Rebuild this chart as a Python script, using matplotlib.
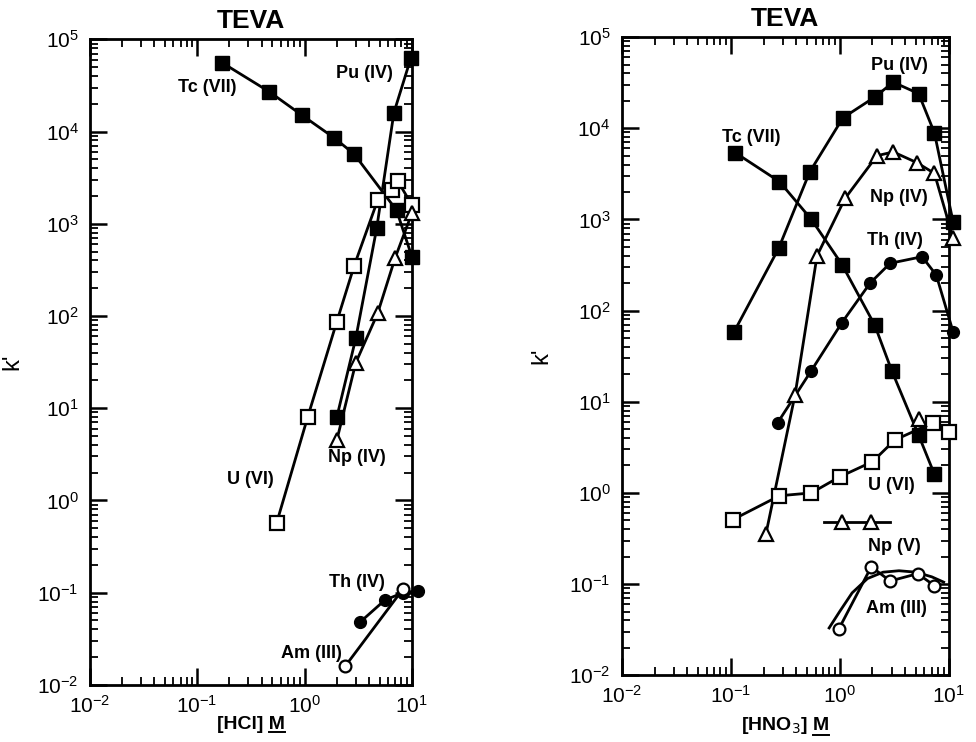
import matplotlib
matplotlib.use("Agg")
import matplotlib.pyplot as plt
from matplotlib.ticker import FixedLocator, LogLocator, NullFormatter, LogFormatterSciNotation
from matplotlib.lines import Line2D

plt.rcParams['font.family'] = ['Liberation Sans', 'DejaVu Sans']

# ---------------- tick values ----------------
x_major_ticks = [1e-2, 1e-1, 1e0, 1e1]
y_major_ticks = [1e-2, 1e-1, 1e0, 1e1, 1e2, 1e3, 1e4, 1e5]

# ---------------- Left panel: HCl ----------------
hcl_tc_x = [0.17, 0.47, 0.95, 1.9, 2.9, 7.2, 10]
hcl_tc_y = [56000, 27000, 15000, 8500, 5700, 1400, 440]
hcl_pu_x = [2.0, 3.0, 4.7, 6.8, 9.8]
hcl_pu_y = [8, 57, 890, 16000, 63000]
hcl_u_x = [0.55, 1.07, 2.0, 2.9, 4.8, 6.6, 7.4, 10]
hcl_u_y = [0.57, 8, 87, 350, 1800, 2300, 2900, 1600]
hcl_np_x = [2.0, 3.0, 4.8, 7.0, 10]
hcl_np_y = [4.5, 31, 107, 430, 1300]
hcl_th_x = [3.3, 5.6, 8.3, 11.5]
hcl_th_y = [0.048, 0.083, 0.10, 0.105]
hcl_am_x = [2.4, 8.3]
hcl_am_y = [0.016, 0.11]

# ---------------- Right panel: HNO3 ----------------
hno3_pu_x = [0.107, 0.275, 0.53, 1.07, 2.1, 3.1, 5.3, 7.4, 11]
hno3_pu_y = [58, 480, 3300, 13000, 22000, 32000, 24000, 8900, 930]
hno3_tc_x = [0.11, 0.28, 0.55, 1.05, 2.1, 3.0, 5.3, 7.4]
hno3_tc_y = [5400, 2600, 1000, 320, 69, 22, 4.3, 1.6]
hno3_np4_x = [0.21, 0.39, 0.62, 1.12, 2.2, 3.1, 5.1, 7.4, 11]
hno3_np4_y = [0.35, 12, 400, 1700, 5000, 5500, 4200, 3200, 620]
hno3_th_x = [0.27, 0.55, 1.05, 1.9, 2.9, 5.7, 7.7, 11]
hno3_th_y = [5.9, 22, 74, 200, 330, 390, 245, 58]
hno3_u_x = [0.105, 0.28, 0.55, 1.0, 2.0, 3.2, 7.2, 10]
hno3_u_y = [0.51, 0.93, 1.0, 1.5, 2.2, 3.8, 5.9, 4.6]
hno3_extra_tri_x = [5.3]
hno3_extra_tri_y = [6.5]
hno3_np5_x = [0.72, 1.05, 1.95, 2.9]
hno3_np5_y = [0.48, 0.48, 0.48, 0.48]
hno3_am_x = [0.98, 1.95, 2.9, 5.2, 7.4]
hno3_am_y = [0.032, 0.155, 0.108, 0.13, 0.096]
hno3_am_fit_x = [0.8, 1.0, 1.3, 1.8, 2.5, 3.5, 5.0, 7.0, 9.0]
hno3_am_fit_y = [0.033, 0.05, 0.08, 0.115, 0.135, 0.14, 0.135, 0.12, 0.105]

LW = 2.0
MS_SQ = 9.5
MS_TRI = 10
MS_CI = 8.5
MEW = 1.6


def filled_sq(ax, x, y):
    ax.plot(x, y, '-', color='black', lw=LW, marker='s', ms=MS_SQ,
            mfc='black', mec='black', clip_on=False, zorder=3)


def open_sq(ax, x, y):
    ax.plot(x, y, '-', color='black', lw=LW, marker='s', ms=MS_SQ,
            mfc='white', mec='black', mew=MEW, clip_on=False, zorder=4)


def open_tri(ax, x, y, line=True, markevery=None):
    ax.plot(x, y, '-' if line else 'none', color='black', lw=LW, marker='^',
            ms=MS_TRI, mfc='white', mec='black', mew=MEW, clip_on=False,
            zorder=4, markevery=markevery)


def filled_ci(ax, x, y):
    ax.plot(x, y, '-', color='black', lw=LW, marker='o', ms=MS_CI,
            mfc='black', mec='black', clip_on=False, zorder=3)


def open_ci(ax, x, y, line=True):
    ax.plot(x, y, '-' if line else 'none', color='black', lw=LW, marker='o',
            ms=MS_CI, mfc='white', mec='black', mew=MEW, clip_on=False, zorder=4)


def style_axes(ax):
    ax.set_xscale('log')
    ax.set_yscale('log')
    ax.set_xlim(1e-2, 1e1)
    ax.set_ylim(1e-2, 1e5)
    ax.xaxis.set_major_locator(FixedLocator(x_major_ticks))
    ax.yaxis.set_major_locator(FixedLocator(y_major_ticks))
    ax.xaxis.set_major_formatter(LogFormatterSciNotation())
    ax.yaxis.set_major_formatter(LogFormatterSciNotation())
    ax.xaxis.set_minor_locator(LogLocator(base=10, subs=range(2, 10), numticks=20))
    ax.yaxis.set_minor_locator(LogLocator(base=10, subs=range(2, 10), numticks=20))
    ax.xaxis.set_minor_formatter(NullFormatter())
    ax.yaxis.set_minor_formatter(NullFormatter())
    ax.tick_params(which='major', direction='in', length=12, width=1.8,
                   top=True, right=True, labelsize=15)
    ax.tick_params(axis='y', which='major', pad=8)
    ax.tick_params(axis='x', which='major', pad=7)
    ax.tick_params(which='minor', direction='in', length=6, width=1.3,
                   top=True, right=True)
    for s in ax.spines.values():
        s.set_linewidth(2.0)
    ax.set_title('TEVA', fontsize=19, fontweight='bold', pad=8)


fig = plt.figure(figsize=(9.76, 7.42), dpi=100)
axL = fig.add_axes([0.092, 0.077, 0.330, 0.870])
axR = fig.add_axes([0.637, 0.090, 0.335, 0.860])

# Left panel
filled_sq(axL, hcl_tc_x, hcl_tc_y)
filled_sq(axL, hcl_pu_x, hcl_pu_y)
open_sq(axL, hcl_u_x, hcl_u_y)
open_tri(axL, hcl_np_x, hcl_np_y)
filled_ci(axL, hcl_th_x, hcl_th_y)
open_ci(axL, hcl_am_x, hcl_am_y)
style_axes(axL)

lab = dict(fontsize=13, fontweight='bold', ha='center', va='center')
axL.text(0.123, 30000, 'Tc (VII)', **lab)
axL.text(3.6, 43000, 'Pu (IV)', **lab)
axL.text(3.1, 2.9, 'Np (IV)', **lab)
axL.text(0.31, 1.7, 'U (VI)', **lab)
axL.text(3.1, 0.13, 'Th (IV)', **lab)
axL.text(1.17, 0.022, 'Am (III)', **lab)
xlabL = axL.set_xlabel('[HCl] M', fontsize=14, fontweight='bold', labelpad=0)
axL.set_ylabel("k'", fontsize=17, labelpad=10)

# Right panel
filled_sq(axR, hno3_pu_x, hno3_pu_y)
filled_sq(axR, hno3_tc_x, hno3_tc_y)
open_tri(axR, hno3_np4_x, hno3_np4_y)
filled_ci(axR, hno3_th_x, hno3_th_y)
open_sq(axR, hno3_u_x, hno3_u_y)
open_tri(axR, hno3_extra_tri_x, hno3_extra_tri_y, line=False)
open_tri(axR, hno3_np5_x, hno3_np5_y, markevery=[1, 2])
axR.plot(hno3_am_fit_x, hno3_am_fit_y, '-', color='black', lw=LW, zorder=3)
open_ci(axR, hno3_am_x, hno3_am_y, line=False)
style_axes(axR)

axR.text(3.5, 49000, 'Pu (IV)', **lab)
axR.text(0.155, 7900, 'Tc (VII)', **lab)
axR.text(3.5, 1740, 'Np (IV)', **lab)
axR.text(3.2, 590, 'Th (IV)', **lab)
axR.text(3.0, 1.2, 'U (VI)', **lab)
axR.text(3.2, 0.26, 'Np (V)', **lab)
axR.text(3.3, 0.054, 'Am (III)', **lab)
xlabR = axR.set_xlabel('[HNO$_3$] M', fontsize=14, fontweight='bold', labelpad=6)
axR.set_ylabel("k'", fontsize=17, labelpad=12)

# underline the "M" of each x label
fig.canvas.draw()
renderer = fig.canvas.get_renderer()
probe = fig.text(0, 0, 'M', fontsize=14, fontweight='bold')
mw = probe.get_window_extent(renderer).width
probe.remove()
for lbl in (xlabL, xlabR):
    bb = lbl.get_window_extent(renderer)
    W, H = fig.bbox.width, fig.bbox.height
    y = bb.y0 + 1
    fig.add_artist(Line2D([(bb.x1 - mw) / W, bb.x1 / W], [y / H, y / H],
                          color='black', lw=1.4, transform=fig.transFigure))

fig.savefig('out.png', dpi=100)
